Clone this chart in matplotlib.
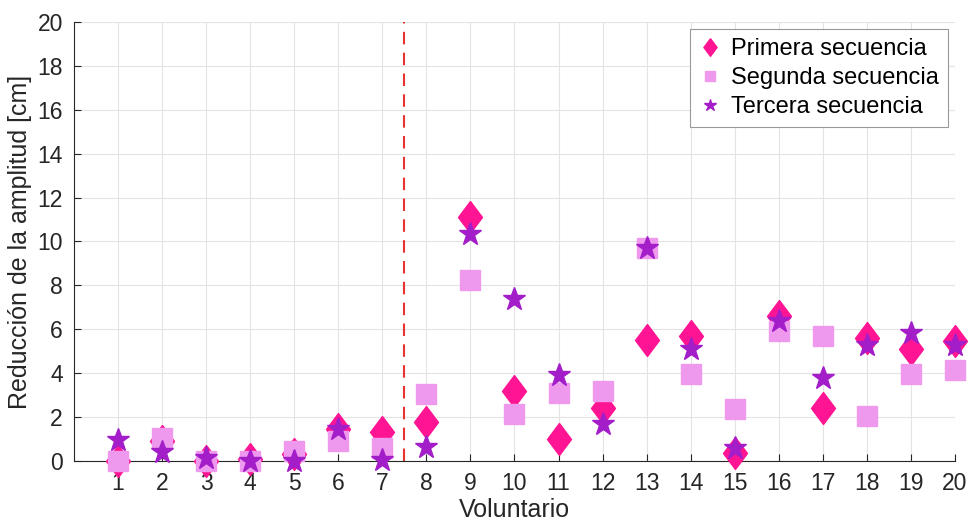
import matplotlib.pyplot as plt
import numpy as np

plt.rcParams['font.family'] = ['Liberation Sans', 'DejaVu Sans']

voluntarios = np.arange(1, 21)
primera = [0.0, 0.9, 0.0, 0.1, 0.3, 1.45, 1.3, 1.8, 11.1, 3.2,
           1.0, 2.4, 5.5, 5.7, 0.35, 6.6, 2.4, 5.6, 5.1, 5.45]
segunda = [0.0, 1.05, 0.0, 0.0, 0.45, 0.9, 0.6, 3.05, 8.25, 2.15,
           3.1, 3.2, 9.7, 3.95, 2.35, 5.9, 5.7, 2.05, 3.95, 4.15]
tercera = [0.95, 0.4, 0.15, 0.0, 0.0, 1.45, 0.05, 0.65, 10.35, 7.4,
           3.9, 1.7, 9.7, 5.1, 0.6, 6.4, 3.8, 5.3, 5.85, 5.3]
separacion = 7.5

# rombo tipo matlab (mas ancho que el 'd' de matplotlib)
rombo = [(0, 1), (0.75, 0), (0, -1), (-0.75, 0), (0, 1)]

fig = plt.figure(figsize=(9.7, 5.29), dpi=100)
ax = fig.add_axes([0.0763, 0.1285, 0.9082, 0.83])

ax.plot(voluntarios, primera, linestyle='none', marker=rombo, ms=23,
        color='#FF1493', mec='#FF1493', label='Primera secuencia', clip_on=False, zorder=3)
ax.plot(voluntarios, segunda, linestyle='none', marker='s', ms=14,
        color='#EE99EE', mec='#EE99EE', label='Segunda secuencia', clip_on=False, zorder=4)
ax.plot(voluntarios, tercera, linestyle='none', marker='*', ms=17,
        color='#A31DC9', mec='#A31DC9', label='Tercera secuencia', clip_on=False, zorder=5)

ax.axvline(separacion, color='#E8322F', linestyle=(0, (6, 4)), linewidth=1.5, zorder=2)

ax.set_xlim(0, 20)
ax.set_ylim(0, 20)
ax.set_xticks(voluntarios)
ax.set_yticks(np.arange(0, 21, 2))
ax.tick_params(direction='in', length=5, color='#262626', labelcolor='#262626',
               labelsize=16.5, pad=8)
ax.grid(True, color='#E3E3E3', linewidth=0.8)
ax.set_axisbelow(True)
for lado in ['top', 'right']:
    ax.spines[lado].set_visible(False)
for lado in ['left', 'bottom']:
    ax.spines[lado].set_color('#262626')
    ax.spines[lado].set_linewidth(0.8)

ax.set_xlabel('Voluntario', fontsize=18, color='#262626', labelpad=2)
ax.set_ylabel('Reducción de la amplitud [cm]', fontsize=18, color='#262626', labelpad=4)

leg = ax.legend(loc='upper right', bbox_to_anchor=(0.9773, 0.9452),
                bbox_transform=fig.transFigure, fontsize=17, markerscale=0.55,
                fancybox=False, edgecolor='#999999', framealpha=1,
                handlelength=0.9, handletextpad=0.45, borderpad=0.38, labelspacing=0.3,
                borderaxespad=0)
leg.get_frame().set_linewidth(0.8)

fig.savefig('out.png', dpi=100)
